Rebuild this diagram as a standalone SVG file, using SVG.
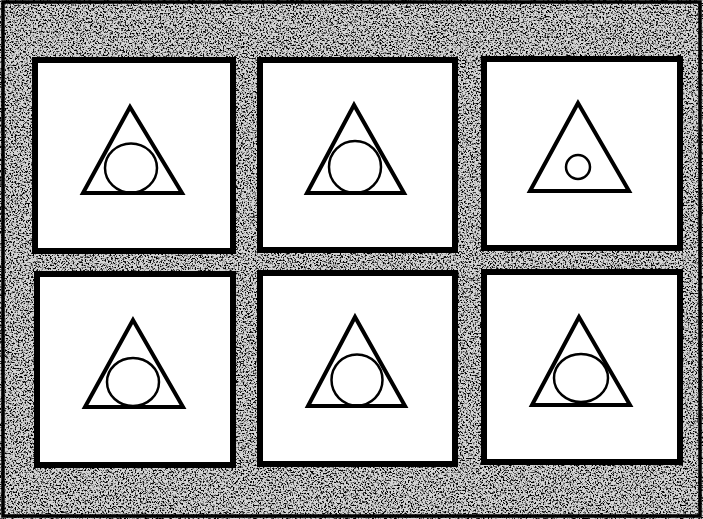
<svg xmlns="http://www.w3.org/2000/svg" width="703" height="519" viewBox="0 0 703 519">
<style>
.panel{fill:#ffffff;stroke:#000000;stroke-width:6}
.tri{fill:none;stroke:#000000;stroke-width:4;stroke-linejoin:miter}
.circ{fill:none;stroke:#000000;stroke-width:2.5}
</style>
<defs>
<filter id="noise" x="0" y="0" width="703" height="519" filterUnits="userSpaceOnUse">
<feTurbulence type="fractalNoise" baseFrequency="0.6" numOctaves="3" seed="7" result="t"/>
<feColorMatrix in="t" type="matrix" values="0 0 0 0 0  0 0 0 0 0  0 0 0 0 0  -5 0 0 0 2.6"/>
</filter>
</defs>
<g id="background">
<rect x="0" y="0" width="703" height="519" fill="#d4d4d4"/>
<rect x="0" y="0" width="703" height="519" fill="#000" filter="url(#noise)"/>
<rect x="3" y="2" width="697" height="514" fill="none" stroke="#000" stroke-width="3.5"/>
</g>
<g id="panel1">
<rect class="panel" x="35" y="60" width="198" height="191"/>
<polygon class="tri" points="130,107 83,193 182,193"/>
<ellipse class="circ" cx="131" cy="168" rx="26" ry="24.5"/>
</g>
<g id="panel2">
<rect class="panel" x="260" y="60" width="195" height="190"/>
<polygon class="tri" points="354,105 307,193 404,193"/>
<ellipse class="circ" cx="355" cy="167" rx="26" ry="26"/>
</g>
<g id="panel3">
<rect class="panel" x="484" y="59" width="196" height="189"/>
<polygon class="tri" points="578,103 530,191 629,191"/>
<circle class="circ" cx="578" cy="167" r="12"/>
</g>
<g id="panel4">
<rect class="panel" x="37" y="274" width="196" height="191"/>
<polygon class="tri" points="133,320 85,407 183,407"/>
<ellipse class="circ" cx="133" cy="382" rx="26" ry="24"/>
</g>
<g id="panel5">
<rect class="panel" x="260" y="273" width="195" height="191"/>
<polygon class="tri" points="355,317 308,406 405,406"/>
<ellipse class="circ" cx="357" cy="380" rx="25.5" ry="25.5"/>
</g>
<g id="panel6">
<rect class="panel" x="484" y="272" width="196" height="190"/>
<polygon class="tri" points="579,317 532,405 630,405"/>
<ellipse class="circ" cx="581" cy="378" rx="27" ry="24"/>
</g>
<g id="connectors"/>
</svg>
